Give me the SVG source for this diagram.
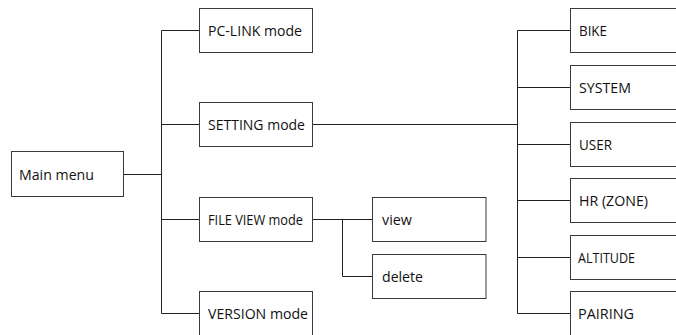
<svg xmlns="http://www.w3.org/2000/svg" width="676" height="335" viewBox="0 0 676 335">
<style>
.box{fill:#fff;stroke:#3a3a3a;stroke-width:1}
.lbl{font-family:"Open Sans","Noto Sans",sans-serif;font-size:14px;fill:#111}
.con{fill:none;stroke:#222;stroke-width:1}
</style>
<rect width="676" height="335" fill="#fff"/>
<g id="connectors">
<path class="con" d="M123.5 174.5H161.5M161.5 30.5V313.5M161.5 30.5H199.5M161.5 124.5H199.5M161.5 219.5H199.5M161.5 313.5H199.5"/>
<path class="con" d="M312.5 124.5H517.5M517.5 30.5V313.5M517.5 30.5H570.5M517.5 87.5H570.5M517.5 144.5H570.5M517.5 200.5H570.5M517.5 257.5H570.5M517.5 313.5H570.5"/>
<path class="con" d="M312.5 219.5H372.5M342.5 219.5V276.5H372.5"/>
</g>
<g id="main"><rect class="box" x="11.5" y="151.5" width="112" height="45"/><text class="lbl" x="19" y="179.5" textLength="75" lengthAdjust="spacingAndGlyphs">Main menu</text></g>
<g id="pclink"><rect class="box" x="199.5" y="8.5" width="113" height="44"/><text class="lbl" x="208" y="36" textLength="94" lengthAdjust="spacingAndGlyphs">PC-LINK mode</text></g>
<g id="setting"><rect class="box" x="199.5" y="102.5" width="113" height="44"/><text class="lbl" x="208" y="130" textLength="97" lengthAdjust="spacingAndGlyphs">SETTING mode</text></g>
<g id="fileview"><rect class="box" x="199.5" y="197.5" width="113" height="44"/><text class="lbl" x="208" y="225" textLength="95" lengthAdjust="spacingAndGlyphs">FILE VIEW mode</text></g>
<g id="version"><rect class="box" x="199.5" y="291.5" width="113" height="50"/><text class="lbl" x="208" y="319" textLength="100" lengthAdjust="spacingAndGlyphs">VERSION mode</text></g>
<g id="view"><rect class="box" x="372.5" y="197.5" width="113.5" height="44"/><text class="lbl" x="382" y="225" textLength="30" lengthAdjust="spacingAndGlyphs">view</text></g>
<g id="delete"><rect class="box" x="372.5" y="254.5" width="113.5" height="44"/><text class="lbl" x="382" y="282" textLength="41" lengthAdjust="spacingAndGlyphs">delete</text></g>
<g id="bike"><rect class="box" x="570.5" y="8.5" width="120" height="44"/><text class="lbl" x="579" y="36" textLength="28" lengthAdjust="spacingAndGlyphs">BIKE</text></g>
<g id="system"><rect class="box" x="570.5" y="65.5" width="120" height="44"/><text class="lbl" x="579" y="93" textLength="52" lengthAdjust="spacingAndGlyphs">SYSTEM</text></g>
<g id="user"><rect class="box" x="570.5" y="122.5" width="120" height="44"/><text class="lbl" x="579" y="150" textLength="33" lengthAdjust="spacingAndGlyphs">USER</text></g>
<g id="hr"><rect class="box" x="570.5" y="178.5" width="120" height="44"/><text class="lbl" x="579" y="206" textLength="69" lengthAdjust="spacingAndGlyphs">HR (ZONE)</text></g>
<g id="altitude"><rect class="box" x="570.5" y="235.5" width="120" height="44"/><text class="lbl" x="578" y="263" textLength="57" lengthAdjust="spacingAndGlyphs">ALTITUDE</text></g>
<g id="pairing"><rect class="box" x="570.5" y="291.5" width="120" height="50"/><text class="lbl" x="578" y="319" textLength="56" lengthAdjust="spacingAndGlyphs">PAIRING</text></g>
</svg>
